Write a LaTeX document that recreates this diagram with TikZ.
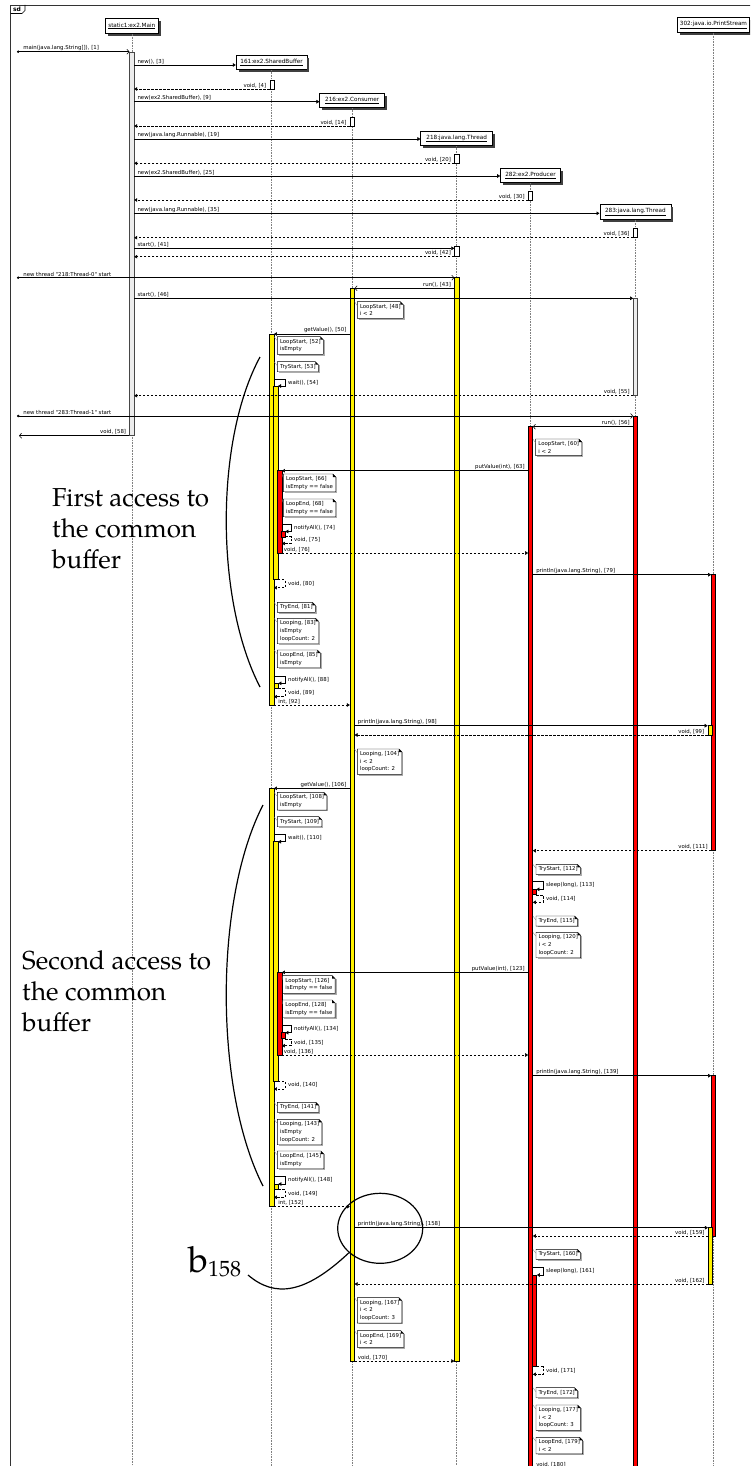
\documentclass[tikz,border=0pt]{standalone}
\usepackage{fontspec}
\usetikzlibrary{arrows.meta,shapes.geometric,calc}
\newfontfamily\lblfont{DejaVu Sans}
\newfontfamily\annfont{TeX Gyre Pagella}

\tikzset{
  lbl/.style={font=\lblfont\fontsize{5.4}{6.4}\selectfont, inner sep=0.6pt},
  lblr/.style={lbl, pos=0, anchor=south west, xshift=2.5pt, yshift=0.3pt},
  lbll/.style={lbl, pos=0, anchor=south east, xshift=-2.5pt, yshift=0.3pt},
  selflbl/.style={lbl, midway, anchor=west, xshift=2.3pt},
  msgline/.style={line width=0.55pt},
  call/.style={msgline, -{Triangle[length=3pt,width=3.6pt]}},
  ret/.style={msgline, dash pattern=on 2.4pt off 1.6pt, -{Triangle[length=3pt,width=3.6pt]}},
  async/.style={msgline, -{Straight Barb[length=2.2pt,width=5pt]}},
  astart/.style={msgline, {Circle[length=2.4pt]}-{Straight Barb[length=2.2pt,width=5pt]}},
  headbox/.style={draw, fill=white, line width=0.6pt, minimum height=14.5pt, inner sep=0pt,
    font=\lblfont\fontsize{5.7}{6.8}\selectfont},
  lifeline/.style={gray, line width=0.5pt, dash pattern=on 0.8pt off 0.8pt},
  actbox/.style={rectangle, draw=black, line width=0.45pt, inner sep=0pt, minimum width=4.3pt},
  ybar/.style={actbox, fill=yellow},
  rbar/.style={actbox, fill=red},
  wbar/.style={actbox, fill=white},
  gbar/.style={actbox, fill=gray!15, draw=gray!55!black},
  notebox/.style={font=\lblfont\fontsize{5.4}{7.7}\selectfont, fill=white, inner xsep=2.5pt,
    inner ysep=2.2pt, align=left, anchor=north west},
  annot/.style={font=\annfont\fontsize{26}{31}\selectfont, inner sep=0pt, anchor=base west},
  annline/.style={line width=1.2pt, black},
}

% lifeline head: name, x, y, width, text
\newcommand\lifehead[5]{%
  \node[headbox, minimum width=#4pt] (#1) at (#2,#3) {\underline{#5}};
  \draw[black!75, line width=2pt]
    ([xshift=1pt,yshift=-3pt]#1.north east) -- ([xshift=1pt,yshift=-1pt]#1.south east)
    -- ([xshift=3pt,yshift=-1pt]#1.south west);
}
% activation bar: name, style, x, top, bottom
\newcommand\actbar[5]{%
  \pgfmathsetmacro\barmid{(#4+#5)/2}%
  \pgfmathsetmacro\barlen{#5-#4}%
  \node[#2, minimum height=\barlen pt] (#1) at (#3,\barmid) {};
}
% note with folded corner: name, bar, x, top, text
\newcommand\seqnote[5]{%
  \node[notebox] (#1) at (#3,#4) {#5};
  \draw[gray!65, line width=1.1pt]
    ([xshift=0.8pt,yshift=-3.4pt]#1.north east) -- ([xshift=0.8pt,yshift=-0.8pt]#1.south east)
    -- ([xshift=1.6pt,yshift=-0.8pt]#1.south west);
  \draw[line width=0.45pt] (#1.north west) -- ([xshift=-3pt]#1.north east)
    -- ([yshift=-3pt]#1.north east) -- (#1.south east) -- (#1.south west) -- cycle;
  \fill ([xshift=-3pt]#1.north east) -- ([xshift=-3pt,yshift=-3pt]#1.north east)
    -- ([yshift=-3pt]#1.north east) -- cycle;
  \draw[gray, line width=0.3pt] (#2.east |- #1.north) -- ([yshift=-4pt]#1.north west);
}

\begin{document}
\begin{tikzpicture}[x=1pt,y=-1pt]
\useasboundingbox (0,0) rectangle (750,1466);
\clip (0,0) rectangle (750,1466);
\fill[white] (0,0) rectangle (750,1466);

% frame
\draw[line width=0.8pt, black!80] (760,5) -- (10.5,5) -- (10.5,1475);
\draw[line width=0.7pt] (10.5,13.5) -- (22,13.5) -- (25,10.5) -- (25,5);
\node[font=\lblfont\bfseries\fontsize{6}{7}\selectfont, inner sep=0pt] (sdtag) at (17,9.3) {sd};

% lifeline heads
\lifehead{hM}{131.8}{26}{53}{static1:ex2.Main}
\lifehead{hB}{271.6}{62.5}{71}{161:ex2.SharedBuffer}
\lifehead{hC}{352.2}{100.5}{65}{216:ex2.Consumer}
\lifehead{hT0}{456.7}{138.5}{72}{218:java.lang.Thread}
\lifehead{hP}{530.5}{175.5}{60}{282:ex2.Producer}
\lifehead{hT1}{635.3}{212}{71}{283:java.lang.Thread}
\lifehead{hPS}{713.5}{25}{72}{302:java.io.PrintStream}

\foreach \h in {hM,hB,hC,hT0,hP,hT1,hPS}
  \draw[lifeline] (\h.south) -- (\h.south |- 0,1470);

% activation bars
\actbar{bM}{gbar}{131.8}{52}{435.7}
\actbar{bB0}{wbar}{272}{80}{89}
\actbar{bC0}{wbar}{352.2}{117}{126}
\actbar{bT0a}{wbar}{456.7}{154.3}{163.3}
\actbar{bP0}{wbar}{530.5}{191}{200}
\actbar{bT1a}{wbar}{635.3}{228.3}{237.7}
\actbar{bT0b}{wbar}{456.7}{246.7}{256.7}
\actbar{bT0}{ybar}{456.7}{277.7}{1361}
\actbar{bC}{ybar}{352.2}{288.3}{1361}
\actbar{bT1w}{gbar}{635.5}{298.3}{395.7}
\actbar{bB1}{ybar}{271.6}{334}{705}
\actbar{bB1w}{ybar}{275.7}{386}{579.5}
\actbar{bB1r}{rbar}{279.6}{470.7}{553}
\actbar{bB1n}{rbar}{283}{531.5}{537}
\actbar{bB1n2}{ybar}{276}{683.3}{688.5}
\actbar{bT1r}{rbar}{635.5}{416}{1472}
\actbar{bP}{rbar}{530.5}{426.7}{1472}
\actbar{bPS1}{rbar}{713.5}{574.7}{850.7}
\actbar{bPSy1}{ybar}{710}{725.7}{735}
\actbar{bB2}{ybar}{271.6}{788.3}{1206.7}
\actbar{bB2w}{ybar}{275.7}{841.7}{1081}
\actbar{bPs1}{rbar}{534}{889.3}{894.5}
\actbar{bB2r}{rbar}{279.6}{972.3}{1055}
\actbar{bB2n}{rbar}{283}{1032.7}{1038.5}
\actbar{bPS2}{rbar}{713.5}{1075.7}{1236}
\actbar{bB2n2}{ybar}{276}{1184}{1189.3}
\actbar{bPSy2}{ybar}{710.3}{1227.7}{1284}
\actbar{bPs2}{rbar}{534.5}{1275}{1366.7}

% outside ends
\coordinate (ext1) at (17,51.7);
\coordinate (ext43) at (17,277.7);
\coordinate (ext56) at (17,416);
\coordinate (ext58) at (19,435.7);

% messages
\draw[astart] (ext1) -- (bM.west |- 0,51.7) node[lblr, xshift=3pt]{main(java.lang.String[]), [1]};
\draw[call] (bM.east |- 0,65) -- (hB.west |- 0,65) node[lblr]{new(), [3]};
\draw[ret] (bB0.west |- 0,89) -- (bM.east |- 0,89) node[lbll]{void, [4]};
\draw[call] (bM.east |- 0,101.7) -- (hC.west |- 0,101.7) node[lblr]{new(ex2.SharedBuffer), [9]};
\draw[ret] (bC0.west |- 0,126) -- (bM.east |- 0,126) node[lbll]{void, [14]};
\draw[call] (bM.east |- 0,139) -- (hT0.west |- 0,139) node[lblr]{new(java.lang.Runnable), [19]};
\draw[ret] (bT0a.west |- 0,163.3) -- (bM.east |- 0,163.3) node[lbll]{void, [20]};
\draw[call] (bM.east |- 0,176) -- (hP.west |- 0,176) node[lblr]{new(ex2.SharedBuffer), [25]};
\draw[ret] (bP0.west |- 0,200) -- (bM.east |- 0,200) node[lbll]{void, [30]};
\draw[call] (bM.east |- 0,213.3) -- (hT1.west |- 0,213.3) node[lblr]{new(java.lang.Runnable), [35]};
\draw[ret] (bT1a.west |- 0,237.7) -- (bM.east |- 0,237.7) node[lbll]{void, [36]};
\draw[call] (bM.east |- 0,248.3) -- (bT0b.west |- 0,248.3) node[lblr]{start(), [41]};
\draw[ret] (bT0b.west |- 0,256.7) -- (bM.east |- 0,256.7) node[lbll]{void, [42]};

\draw[astart] (ext43) -- (bT0.west |- 0,277.7) node[lblr, xshift=3pt]{new thread "218:Thread-0" start};
\draw[async] (bT0.west |- 0,288.3) -- (bC.east |- 0,288.3) node[lbll]{run(), [43]};
\draw[call] (bM.east |- 0,298.3) -- (bT1w.west |- 0,298.3) node[lblr]{start(), [46]};
\draw[call] (bC.west |- 0,334) -- (bB1.east |- 0,334) node[lbll]{getValue(), [50]};
\draw[call] (bB1.east |- 0,379) -- (285,379) -- (285,386) node[selflbl]{wait(), [54]} -- (bB1w.east |- 0,386);
\draw[ret] (bT1w.west |- 0,395.7) -- (bM.east |- 0,395.7) node[lbll]{void, [55]};
\draw[astart] (ext56) -- (bT1r.west |- 0,416) node[lblr, xshift=3pt]{new thread "283:Thread-1" start};
\draw[async] (bT1r.west |- 0,426.7) -- (bP.east |- 0,426.7) node[lbll]{run(), [56]};
\draw[async] (bM.west |- 0,435.7) -- (ext58) node[lbll]{void, [58]};

\draw[call] (bP.west |- 0,470.7) -- (bB1r.east |- 0,470.7) node[lbll]{putValue(int), [63]};
\draw[call] (bB1r.east |- 0,524.3) -- (291,524.3) -- (291,531.5) node[selflbl]{notifyAll(), [74]} -- (bB1n.east |- 0,531.5);
\draw[ret] (bB1n.east |- 0,536.5) -- (291,536.5) -- (291,543.5) node[selflbl]{void, [75]} -- (bB1r.east |- 0,543.5);
\draw[ret] (bB1r.east |- 0,553) -- (bP.west |- 0,553) node[lblr, xshift=-1.5pt]{void, [76]};
\draw[call] (bP.east |- 0,574.7) -- (bPS1.west |- 0,574.7) node[lblr]{println(java.lang.String), [79]};
\draw[ret] (bB1w.east |- 0,579.5) -- (285,579.5) -- (285,587.7) node[selflbl]{void, [80]} -- (bB1.east |- 0,587.7);
\draw[call] (bB1.east |- 0,676) -- (285,676) -- (285,683.3) node[selflbl]{notifyAll(), [88]} -- (bB1n2.east |- 0,683.3);
\draw[ret] (bB1n2.east |- 0,688.5) -- (285,688.5) -- (285,696.7) node[selflbl]{void, [89]} -- (bB1.east |- 0,696.7);
\draw[ret] (bB1.east |- 0,705) -- (bC.west |- 0,705) node[lblr, xshift=1pt]{int, [92]};
\draw[call] (bC.east |- 0,725.7) -- (bPSy1.west |- 0,725.7) node[lblr]{println(java.lang.String), [98]};
\draw[ret] (bPSy1.west |- 0,735) -- (bC.east |- 0,735) node[lbll]{void, [99]};

\draw[call] (bC.west |- 0,788.3) -- (bB2.east |- 0,788.3) node[lbll]{getValue(), [106]};
\draw[call] (bB2.east |- 0,834) -- (285,834) -- (285,841.7) node[selflbl]{wait(), [110]} -- (bB2w.east |- 0,841.7);
\draw[ret] (bPS1.west |- 0,850.7) -- (bP.east |- 0,850.7) node[lbll]{void, [111]};
\draw[call] (bP.east |- 0,881.7) -- (543,881.7) -- (543,889.3) node[selflbl]{sleep(long), [113]} -- (bPs1.east |- 0,889.3);
\draw[ret] (bPs1.east |- 0,895) -- (543,895) -- (543,902.3) node[selflbl]{void, [114]} -- (bP.east |- 0,902.3);
\draw[call] (bP.west |- 0,972.3) -- (bB2r.east |- 0,972.3) node[lbll]{putValue(int), [123]};
\draw[call] (bB2r.east |- 0,1025.7) -- (291,1025.7) -- (291,1032.7) node[selflbl]{notifyAll(), [134]} -- (bB2n.east |- 0,1032.7);
\draw[ret] (bB2n.east |- 0,1039) -- (291,1039) -- (291,1045.7) node[selflbl]{void, [135]} -- (bB2r.east |- 0,1045.7);
\draw[ret] (bB2r.east |- 0,1055) -- (bP.west |- 0,1055) node[lblr, xshift=-1.5pt]{void, [136]};
\draw[call] (bP.east |- 0,1075.7) -- (bPS2.west |- 0,1075.7) node[lblr]{println(java.lang.String), [139]};
\draw[ret] (bB2w.east |- 0,1081) -- (285,1081) -- (285,1089) node[selflbl]{void, [140]} -- (bB2.east |- 0,1089);
\draw[call] (bB2.east |- 0,1176.7) -- (285,1176.7) -- (285,1184) node[selflbl]{notifyAll(), [148]} -- (bB2n2.east |- 0,1184);
\draw[ret] (bB2n2.east |- 0,1189.3) -- (285,1189.3) -- (285,1197.3) node[selflbl]{void, [149]} -- (bB2.east |- 0,1197.3);
\draw[ret] (bB2.east |- 0,1206.7) -- (bC.west |- 0,1206.7) node[lblr, xshift=1pt]{int, [152]};
\draw[call] (bC.east |- 0,1227.7) -- (bPSy2.west |- 0,1227.7) node[lblr]{println(java.lang.String), [158]};
\draw[ret] (bPSy2.west |- 0,1236) -- (bP.east |- 0,1236) node[lbll]{void, [159]};
\draw[call] (bP.east |- 0,1267.3) -- (543,1267.3) -- (543,1275) node[selflbl]{sleep(long), [161]} -- (bPs2.east |- 0,1275);
\draw[ret] (bPSy2.west |- 0,1284) -- (bC.east |- 0,1284) node[lbll]{void, [162]};
\draw[ret] (bC.east |- 0,1361) -- (bT0.west |- 0,1361) node[lblr]{void, [170]};
\draw[ret] (bPs2.east |- 0,1366.7) -- (543,1366.7) -- (543,1374.3) node[selflbl]{void, [171]} -- (bP.east |- 0,1374.3);
\draw[ret] (bP.east |- 0,1468) -- (bT1r.west |- 0,1468) node[lblr]{void, [180]};

% notes
\seqnote{n48}{bC}{357.3}{301.7}{LoopStart, [48]\\i < 2}
\seqnote{n52}{bB1}{277.3}{336.7}{LoopStart, [52]\\isEmpty}
\seqnote{n53}{bB1}{277.3}{361.7}{TryStart, [53]}
\seqnote{n60}{bP}{535.7}{439}{LoopStart, [60]\\i < 2}
\seqnote{n66}{bB1r}{283.3}{474}{LoopStart, [66]\\isEmpty == false}
\seqnote{n68}{bB1r}{283.3}{499}{LoopEnd, [68]\\isEmpty == false}
\seqnote{n81}{bB1}{277.3}{602.3}{TryEnd, [81]}
\seqnote{n83}{bB1}{277.3}{618.3}{Looping, [83]\\isEmpty\\loopCount: 2}
\seqnote{n85}{bB1}{277.3}{650}{LoopEnd, [85]\\isEmpty}
\seqnote{n104}{bC}{357.3}{749}{Looping, [104]\\i < 2\\loopCount: 2}
\seqnote{n108}{bB2}{277.3}{792.3}{LoopStart, [108]\\isEmpty}
\seqnote{n109}{bB2}{277.3}{816.7}{TryStart, [109]}
\seqnote{n112}{bP}{536}{864.3}{TryStart, [112]}
\seqnote{n115}{bP}{536}{916}{TryEnd, [115]}
\seqnote{n120}{bP}{536}{932.3}{Looping, [120]\\i < 2\\loopCount: 2}
\seqnote{n126}{bB2r}{282.7}{975.7}{LoopStart, [126]\\isEmpty == false}
\seqnote{n128}{bB2r}{282.7}{1000}{LoopEnd, [128]\\isEmpty == false}
\seqnote{n141}{bB2}{277.3}{1102.3}{TryEnd, [141]}
\seqnote{n143}{bB2}{277.3}{1119.3}{Looping, [143]\\isEmpty\\loopCount: 2}
\seqnote{n145}{bB2}{277.3}{1151}{LoopEnd, [145]\\isEmpty}
\seqnote{n160}{bP}{536}{1249.3}{TryStart, [160]}
\seqnote{n167}{bC}{357.3}{1297.7}{Looping, [167]\\i < 2\\loopCount: 3}
\seqnote{n169}{bC}{357.3}{1330.7}{LoopEnd, [169]\\i < 2}
\seqnote{n172}{bP}{536}{1387.7}{TryEnd, [172]}
\seqnote{n177}{bP}{536}{1405}{Looping, [177]\\i < 2\\loopCount: 3}
\seqnote{n179}{bP}{536}{1437.3}{LoopEnd, [179]\\i < 2}

% hand-drawn annotations
\node[annot] (acc1a) at (52,506.7) {First access to};
\node[annot] (acc1b) at (52,537.5) {the common};
\node[annot] (acc1c) at (52,568.3) {buffer};
\coordinate (arc1top) at (260,357);
\coordinate (arc1bot) at (260,687);
\draw[annline] (arc1top) .. controls (215,440) and (215,600) .. (arc1bot);

\node[annot] (acc2a) at (22,969.5) {Second access to};
\node[annot] (acc2b) at (22,1000.3) {the common};
\node[annot] (acc2c) at (22,1031.1) {buffer};
\coordinate (arc2top) at (263,805);
\coordinate (arc2bot) at (263,1186);
\draw[annline] (arc2top) .. controls (214,900) and (214,1090) .. (arc2bot);

\node[inner sep=0pt, anchor=base west] (b158) at (188,1272)
  {\annfont\fontsize{36}{36}\selectfont b\raisebox{-4.7pt}{\fontsize{22}{22}\selectfont 158}};
\node[ellipse, draw, line width=1.2pt, minimum width=85pt, minimum height=70pt, inner sep=0pt]
  (ring) at (380.2,1228.3) {};
\coordinate (bTail) at (248,1275);
\draw[annline] (bTail) .. controls (275,1298) and (305,1294) .. (ring.218);
\end{tikzpicture}
\end{document}
